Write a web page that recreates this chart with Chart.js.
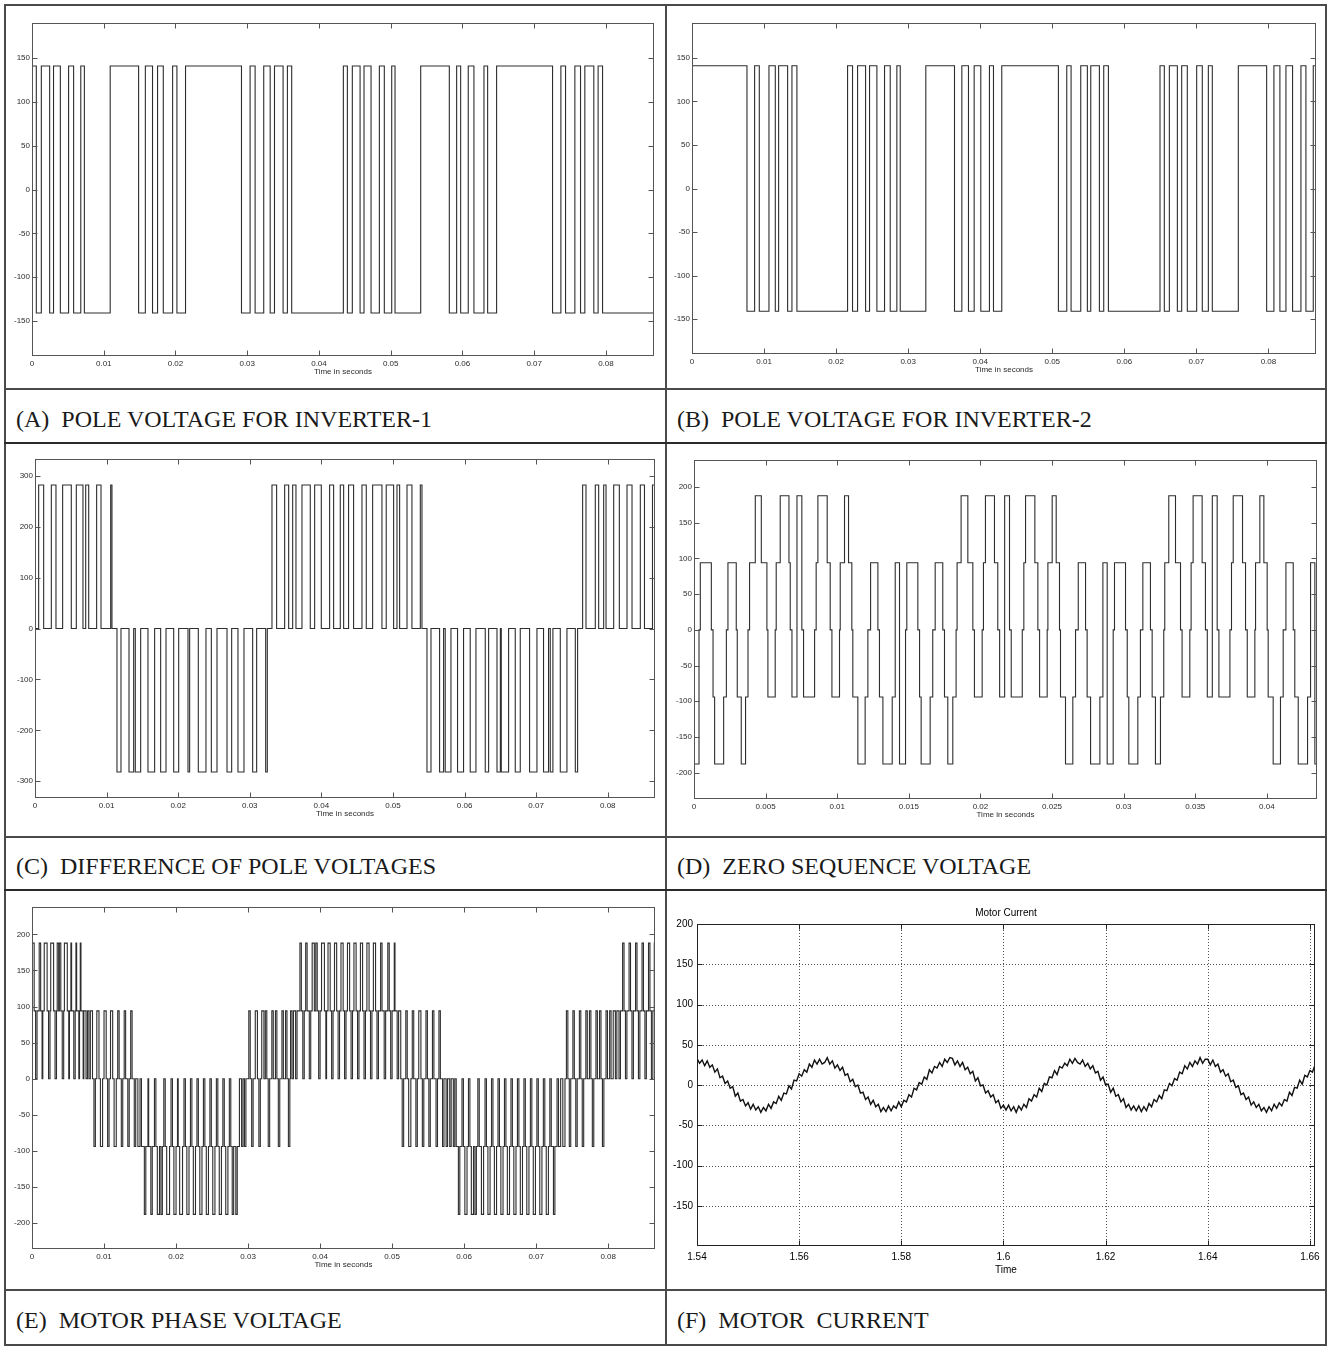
<!DOCTYPE html>
<html><head><meta charset="utf-8">
<script src="https://cdn.jsdelivr.net/npm/chart.js@4/dist/chart.umd.min.js"></script>
<style>
html,body{margin:0;padding:0;background:#fff;}
body{width:1328px;height:1347px;position:relative;overflow:hidden;}
.box{position:absolute;}
.ln{position:absolute;background:#4a4a4a;}
.cap{position:absolute;font-family:"Liberation Serif","Times New Roman",serif;font-size:24px;line-height:24px;color:#1a1a1a;white-space:pre;}
</style></head><body>
<div class="ln" style="left:4px;top:4px;width:1323px;height:2px"></div>
<div class="ln" style="left:4px;top:1344px;width:1323px;height:2px"></div>
<div class="ln" style="left:4px;top:4px;width:2px;height:1342px"></div>
<div class="ln" style="left:665px;top:4px;width:2px;height:1342px"></div>
<div class="ln" style="left:1325px;top:4px;width:2px;height:1342px"></div>
<div class="ln" style="left:4px;top:388px;width:1323px;height:2px"></div>
<div class="ln" style="left:4px;top:442px;width:1323px;height:2px;background:#2a2a2a"></div>
<div class="ln" style="left:4px;top:836px;width:1323px;height:2px"></div>
<div class="ln" style="left:4px;top:889px;width:1323px;height:2px;background:#2a2a2a"></div>
<div class="ln" style="left:4px;top:1289px;width:1323px;height:2px"></div>
<div class="cap" style="left:16px;top:407px">(A)  POLE VOLTAGE FOR INVERTER-1</div>
<div class="cap" style="left:677px;top:407px">(B)  POLE VOLTAGE FOR INVERTER-2</div>
<div class="cap" style="left:16px;top:854px">(C)  DIFFERENCE OF POLE VOLTAGES</div>
<div class="cap" style="left:677px;top:854px">(D)  ZERO SEQUENCE VOLTAGE</div>
<div class="cap" style="left:16px;top:1308px">(E)  MOTOR PHASE VOLTAGE</div>
<div class="cap" style="left:677px;top:1308px">(F)  MOTOR  CURRENT</div>
<script>
// ---------- tick labels ----------
const xTicks01 = [0,0.01,0.02,0.03,0.04,0.05,0.06,0.07,0.08];
const xLabels01 = ['0','0.01','0.02','0.03','0.04','0.05','0.06','0.07','0.08'];
const xTicksD = [0,0.005,0.01,0.015,0.02,0.025,0.03,0.035,0.04];
const xLabelsD = ['0','0.005','0.01','0.015','0.02','0.025','0.03','0.035','0.04'];
const yTicksPole = [-150,-100,-50,0,50,100,150];
const yLabelsPole = ['-150','-100','-50','0','50','100','150'];
const yTicksDiff = [-300,-200,-100,0,100,200,300];
const yLabelsDiff = ['-300','-200','-100','0','100','200','300'];
const yTicks200 = [-200,-150,-100,-50,0,50,100,150,200];
const yLabels200 = ['-200','-150','-100','-50','0','50','100','150','200'];
const xTicksF = [1.54,1.56,1.58,1.6,1.62,1.64,1.66];
const xLabelsF = ['1.54','1.56','1.58','1.6','1.62','1.64','1.66'];
const yTicksF = [-150,-100,-50,0,50,100,150,200];
const yLabelsF = ['-150','-100','-50','0','50','100','150','200'];

// ---------- series: [time (s), level from this time on] ----------
const poleV1 = [[0,141],[0.0006,-141],[0.0013,141],[0.00246,-141],[0.003,141],[0.00395,-141],[0.0051,141],[0.0058,-141],[0.0068,141],[0.0073,-141],[0.0109,141],[0.01486,-141],[0.0158,141],[0.0168,-141],[0.0175,141],[0.0183,-141],[0.0196,141],[0.0202,-141],[0.0214,141],[0.0292,-141],[0.0304,141],[0.0311,-141],[0.0323,141],[0.0332,-141],[0.0338,141],[0.035,-141],[0.0356,141],[0.0362,-141],[0.0434,141],[0.04396,-141],[0.04465,141],[0.04573,-141],[0.04628,141],[0.04726,-141],[0.04842,141],[0.04911,-141],[0.05014,141],[0.0506,-141],[0.05418,141],[0.05817,-141],[0.05919,141],[0.05975,-141],[0.06081,141],[0.0616,-141],[0.063,141],[0.06351,-141],[0.06476,141],[0.07256,-141],[0.07372,141],[0.07437,-141],[0.07567,141],[0.07646,-141],[0.07706,141],[0.07831,-141],[0.07891,141],[0.07953,-141],[0.0867,-141]];

const poleV2 = [[0,141],[0.00763,-141],[0.00869,141],[0.00934,-141],[0.01068,141],[0.01156,-141],[0.01202,141],[0.01327,-141],[0.01387,141],[0.01456,-141],[0.02159,141],[0.02228,-141],[0.02298,141],[0.02409,-141],[0.02464,141],[0.02566,-141],[0.02672,141],[0.02751,-141],[0.02843,141],[0.0289,-141],[0.03245,141],[0.03643,-141],[0.03745,141],[0.03837,-141],[0.03916,141],[0.04008,-141],[0.04128,141],[0.04184,-141],[0.04299,141],[0.05085,-141],[0.05201,141],[0.05261,-141],[0.05395,141],[0.05487,-141],[0.05534,141],[0.05654,-141],[0.05714,141],[0.05779,-141],[0.06495,141],[0.06555,-141],[0.06625,141],[0.06736,-141],[0.06796,141],[0.06874,-141],[0.07004,141],[0.07082,-141],[0.07166,141],[0.07221,-141],[0.07582,141],[0.07975,-141],[0.08076,141],[0.08159,-141],[0.08243,141],[0.08335,-141],[0.08451,141],[0.0852,-141],[0.08622,141],[0.0866,141]];

const poleDiff = [[0,0],[0.00051,282],[0.00121,0],[0.00228,282],[0.00293,0],[0.00386,282],[0.00507,0],[0.00577,282],[0.0067,0],[0.00708,282],[0.0075,0],[0.00861,282],[0.00922,0],[0.01057,282],[0.01075,0],[0.01145,-282],[0.01201,0],[0.01313,-282],[0.01378,0],[0.01401,-282],[0.01476,0],[0.01578,-282],[0.01671,0],[0.01755,-282],[0.0183,0],[0.01937,-282],[0.02007,0],[0.02137,-282],[0.0216,0],[0.02281,-282],[0.02388,0],[0.02463,-282],[0.02542,0],[0.02682,-282],[0.02747,0],[0.02835,-282],[0.02919,0],[0.0304,-282],[0.03096,0],[0.03222,-282],[0.03245,0],[0.0331,282],[0.03375,0],[0.03487,282],[0.03543,0],[0.03599,282],[0.03645,0],[0.03729,282],[0.03845,0],[0.03906,282],[0.03999,0],[0.04115,282],[0.04171,0],[0.04264,282],[0.04311,0],[0.0438,282],[0.0445,0],[0.04567,282],[0.04627,0],[0.04716,282],[0.04846,0],[0.04906,282],[0.05009,0],[0.05056,282],[0.05093,0],[0.05196,282],[0.05265,0],[0.05382,282],[0.05405,0],[0.05475,-282],[0.05531,0],[0.05651,-282],[0.05707,0],[0.0573,-282],[0.0581,0],[0.05902,-282],[0.05986,0],[0.06079,-282],[0.06159,0],[0.06289,-282],[0.06336,0],[0.06453,-282],[0.065,0],[0.06513,-282],[0.06615,0],[0.06708,-282],[0.06778,0],[0.06908,-282],[0.07011,0],[0.07103,-282],[0.07173,0],[0.07197,-282],[0.07234,0],[0.07337,-282],[0.0743,0],[0.07547,-282],[0.07579,0],[0.07649,282],[0.07696,0],[0.07826,282],[0.07873,0],[0.07943,282],[0.07976,0],[0.08083,282],[0.08162,0],[0.08269,282],[0.08339,0],[0.08455,282],[0.08513,0],[0.08625,282],[0.0866,282]];

const zeroSeq = [[0,-188],[0.00035,0],[0.00044,94],[0.00121,0],[0.00133,-94],[0.00144,-188],[0.00207,-94],[0.00226,0],[0.00237,94],[0.00295,0],[0.00302,-94],[0.0033,-188],[0.0036,-94],[0.00377,0],[0.00388,94],[0.00428,188],[0.0047,94],[0.00509,0],[0.00516,-94],[0.00567,0],[0.00574,94],[0.00602,188],[0.00663,94],[0.00672,0],[0.00684,-94],[0.00719,188],[0.00753,0],[0.00765,-94],[0.00842,0],[0.00853,94],[0.00865,188],[0.0093,94],[0.00951,0],[0.00963,-94],[0.01016,0],[0.01021,94],[0.01051,188],[0.01079,94],[0.01102,0],[0.01109,-94],[0.01144,-188],[0.01195,-94],[0.01214,0],[0.01233,94],[0.01284,0],[0.01295,-94],[0.01319,-188],[0.01384,-94],[0.01405,94],[0.01435,-188],[0.01477,0],[0.01486,94],[0.01563,0],[0.01575,-94],[0.01586,-188],[0.01649,-94],[0.01667,0],[0.01684,94],[0.01737,0],[0.01749,-94],[0.01772,-188],[0.01807,-94],[0.0183,0],[0.01837,94],[0.01865,188],[0.01912,94],[0.01947,0],[0.01958,-94],[0.02012,0],[0.02021,94],[0.02035,188],[0.02098,94],[0.02121,0],
[0.02134,-94],[0.02169,188],[0.02203,0],[0.02215,-94],[0.02292,0],[0.02303,94],[0.02315,188],[0.0238,94],[0.02401,0],[0.02413,-94],[0.02466,0],[0.02471,94],[0.02501,188],[0.02529,94],[0.02552,0],[0.02559,-94],[0.02594,-188],[0.02645,-94],[0.02664,0],[0.02683,94],[0.02734,0],[0.02745,-94],[0.02769,-188],[0.02834,-94],[0.02855,94],[0.02885,-188],[0.02927,0],[0.02936,94],[0.03013,0],[0.03025,-94],[0.03036,-188],[0.03099,-94],[0.03117,0],[0.03134,94],[0.03187,0],[0.03199,-94],[0.03222,-188],[0.03257,-94],[0.0328,0],[0.03287,94],[0.03315,188],[0.03362,94],[0.03397,0],[0.03408,-94],[0.03462,0],[0.03471,94],[0.03485,188],[0.03548,94],[0.03571,0],
[0.03584,-94],[0.03619,188],[0.03653,0],[0.03665,-94],[0.03742,0],[0.03753,94],[0.03765,188],[0.0383,94],[0.03851,0],[0.03863,-94],[0.03916,0],[0.03921,94],[0.03951,188],[0.03979,94],[0.04002,0],[0.04009,-94],[0.04044,-188],[0.04095,-94],[0.04114,0],[0.04133,94],[0.04184,0],[0.04195,-94],[0.04219,-188],[0.04284,-94],[0.04305,94],[0.04335,-188],[0.0435,-188]];

const phaseV = [[0,188],[0.0003,94],[0.0005,0],[0.0007,94],[0.001,188],[0.0012,94],[0.0014,0],[0.0015,94],[0.0017,188],[0.0021,94],[0.0023,0],[0.0025,94],[0.0026,188],[0.003,94],[0.0032,0],[0.0034,94],[0.0035,188],[0.0037,94],[0.0038,188],[0.004,94],[0.0042,0],[0.0044,94],[0.0045,188],[0.0049,94],[0.0051,0],[0.0052,94],[0.0054,188],[0.0055,94],[0.0058,0],[0.006,94],[0.0061,188],[0.0062,94],[0.0065,0],[0.0066,94],[0.0067,188],[0.0068,94],[0.0071,0],[0.0072,94],[0.0075,0],[0.0077,94],[0.0079,0],[0.0081,94],[0.0084,0],
[0.0086,-94],[0.0088,0],[0.009,94],[0.0093,0],[0.0095,-94],[0.0098,0],[0.01,94],[0.0103,0],[0.0105,-94],[0.0107,0],[0.0109,94],[0.0112,0],[0.0114,-94],[0.0117,0],[0.0119,94],[0.0121,0],[0.0124,-94],[0.0126,0],[0.0128,94],[0.013,0],[0.0133,-94],[0.0135,0],[0.0137,94],[0.0139,0],[0.0142,-94],[0.0144,0],
[0.0147,-94],[0.015,0],[0.0152,-94],[0.0156,-188],[0.0158,-94],[0.0161,0],[0.0162,-94],[0.0165,-188],[0.0167,-94],[0.017,0],[0.0172,-94],[0.0174,-188],[0.0177,-94],[0.0179,-188],[0.0181,-94],[0.0183,0],[0.0185,-94],[0.0187,-188],[0.0191,-94],[0.0193,0],[0.0195,-94],[0.0197,-188],[0.02,-94],[0.0202,0],[0.0203,-94],[0.0205,-188],[0.0209,-94],[0.0211,0],[0.0213,-94],[0.0215,-188],[0.0218,-94],[0.022,0],[0.0222,-94],[0.0224,-188],[0.0227,-94],[0.0229,0],[0.0231,-94],[0.0233,-188],[0.0236,-94],[0.0238,0],[0.024,-94],[0.0242,-188],[0.0245,-94],[0.0247,0],[0.0249,-94],[0.0251,-188],[0.0254,-94],[0.0256,0],[0.0258,-94],[0.026,-188],[0.0263,-94],[0.0265,0],[0.0267,-94],[0.0269,-188],[0.0272,-94],[0.0274,0],[0.0276,-94],[0.0278,-188],[0.028,-94],[0.0283,-188],[0.0285,-94],[0.0288,0],
[0.0291,-94],[0.0293,0],[0.0295,-94],[0.0297,0],[0.0301,94],[0.0303,0],[0.0305,-94],[0.0307,0],[0.031,94],[0.0313,0],[0.0315,-94],[0.0317,0],[0.0319,94],[0.0322,0],[0.0324,94],[0.0326,0],[0.0328,-94],[0.033,0],[0.0333,94],[0.0335,0],[0.0338,94],[0.034,0],[0.0342,-94],[0.0344,0],[0.0347,94],[0.0349,0],[0.0352,94],[0.0354,0],[0.0356,-94],[0.0358,0],[0.0359,94],
[0.0361,0],[0.0363,94],[0.0366,0],[0.0368,94],[0.0372,188],[0.0374,94],[0.0376,0],[0.0378,94],[0.038,188],[0.0382,94],[0.0385,0],[0.0387,94],[0.0389,188],[0.0392,94],[0.0394,188],[0.0396,94],[0.0398,0],[0.04,94],[0.0402,188],[0.0406,94],[0.0408,0],[0.0409,94],[0.0411,188],[0.0414,94],[0.0416,0],[0.0418,94],[0.042,188],[0.0423,94],[0.0425,0],[0.0427,94],[0.0429,188],[0.0432,94],[0.0434,0],[0.0436,94],[0.0438,188],[0.0441,94],[0.0443,0],[0.0445,94],[0.0447,188],[0.045,94],[0.0452,0],[0.0454,94],[0.0456,188],[0.0459,94],[0.0461,0],[0.0463,94],[0.0465,188],[0.0468,94],[0.047,0],[0.0472,94],[0.0474,188],[0.0477,94],[0.0479,0],[0.0481,94],[0.0484,188],[0.0486,94],[0.0489,0],[0.0491,94],[0.0494,188],[0.0496,94],[0.0498,0],[0.05,94],[0.0503,188],[0.0504,94],
[0.0507,0],[0.0509,94],[0.0512,0],[0.0514,-94],[0.0516,0],[0.0519,94],[0.0521,0],[0.0523,-94],[0.0526,0],[0.0528,94],[0.053,0],[0.0533,-94],[0.0535,0],[0.0537,94],[0.054,0],[0.0542,-94],[0.0544,0],[0.0547,94],[0.0549,0],[0.0551,-94],[0.0553,0],[0.0556,94],[0.0558,0],[0.0561,-94],[0.0563,0],[0.0565,94],[0.0567,0],[0.057,-94],[0.0572,0],[0.0575,-94],[0.0577,0],[0.058,-94],[0.0582,0],[0.0585,-94],[0.0587,0],
[0.0589,-94],[0.0592,-188],[0.0594,-94],[0.0597,0],[0.0599,-94],[0.0601,-188],[0.0604,-94],[0.0606,0],[0.0608,-94],[0.061,-188],[0.0613,-94],[0.0615,-188],[0.0617,-94],[0.0619,0],[0.0621,-94],[0.0624,-188],[0.0627,-94],[0.0629,0],[0.0631,-94],[0.0633,-188],[0.0636,-94],[0.0638,0],[0.064,-94],[0.0642,-188],[0.0645,-94],[0.0647,0],[0.0649,-94],[0.0651,-188],[0.0654,-94],[0.0656,0],[0.0658,-94],[0.066,-188],[0.0663,-94],[0.0665,0],[0.0667,-94],[0.0669,-188],[0.0672,-94],[0.0674,0],[0.0676,-94],[0.0678,-188],[0.0681,-94],[0.0683,0],[0.0685,-94],[0.0687,-188],[0.069,-94],[0.0692,0],[0.0694,-94],[0.0696,-188],[0.0699,-94],[0.0701,0],[0.0703,-94],[0.0705,-188],[0.0708,-94],[0.071,0],[0.0712,-94],[0.0714,-188],[0.0717,-94],[0.0719,0],[0.0721,-94],[0.0724,-188],[0.0726,-94],[0.0729,0],[0.0731,-94],[0.0734,0],[0.0737,-94],[0.074,0],
[0.0742,94],[0.0744,0],[0.0746,-94],[0.0748,0],[0.0751,94],[0.0753,0],[0.0755,-94],[0.0757,0],[0.076,94],[0.0762,0],[0.0764,-94],[0.0766,0],[0.0769,94],[0.0771,0],[0.0774,94],[0.0776,0],[0.0778,-94],[0.078,0],[0.0783,94],[0.0785,0],[0.0788,94],[0.079,0],[0.0792,-94],[0.0794,0],[0.0797,94],[0.0799,0],[0.0802,94],[0.0804,0],[0.0807,94],[0.081,0],
[0.0812,94],[0.0815,0],[0.0817,94],[0.082,188],[0.0822,94],[0.0824,0],[0.0826,94],[0.0829,188],[0.0831,94],[0.0833,0],[0.0835,94],[0.0838,188],[0.084,94],[0.0842,0],[0.0844,94],[0.0847,188],[0.0849,94],[0.0851,0],[0.0853,94],[0.0856,188],[0.0858,94],[0.086,0],[0.0862,94],[0.0864,188],[0.0865,188]];

// motor current, sampled every 0.5 ms from t = 1.54 s
const currentT0 = 1.54;
const currentDt = 0.0005;
const motorCurrent = [33,27,31,24,30,22,25,16,20,9,11,2,5,-4,-2,-14,-10,-20,-18,-26,-22,-30,-24,-31,-27,-34,-28,-32,-24,-29,-21,-23,-14,-19,-10,-11,-1,-5,6,5,14,11,19,16,26,22,31,26,32,26,
28,34,26,30,21,25,18,22,12,14,4,7,-2,0,-10,-9,-18,-15,-24,-19,-27,-24,-33,-28,-33,-26,-32,-26,-29,-21,-27,-19,-21,-12,-15,-4,-6,3,1,10,7,19,15,23,21,28,23,32,28,34,
33,25,30,23,28,19,22,14,17,5,9,-1,0,-10,-7,-15,-12,-22,-19,-29,-25,-31,-25,-32,-27,-34,-26,-31,-24,-28,-17,-20,-12,-15,-4,-8,2,0,10,9,18,13,23,21,27,24,32,27,33,28,
26,31,23,27,20,24,15,17,6,10,0,1,-9,-4,-14,-12,-21,-17,-28,-24,-31,-26,-32,-26,-33,-27,-32,-23,-27,-18,-21,-13,-17,-6,-7,2,-1,8,6,16,14,24,20,28,23,30,26,34,27,32,
32,25,31,23,26,16,19,11,14,4,6,-3,-1,-12,-10,-18,-15,-25,-21,-28,-24,-32,-28,-34,-27,-32,-24,-29,-22,-26,-18,-20,-9,-13,-3,-4,6,1,12,10,18,16,25];

// ---------- drawing ----------
const SANS = '"Liberation Sans", Arial, Helvetica, sans-serif';

const framePlugin = {
  id: 'frame',
  beforeDatasetsDraw(chart, args, o) {
    if (!o.dotted) return;
    const {ctx, chartArea: a} = chart;
    const xs = chart.scales.x, ys = chart.scales.y;
    ctx.save();
    ctx.strokeStyle = o.gridColor; ctx.lineWidth = 1; ctx.setLineDash([1, 2]);
    ctx.beginPath();
    xs.ticks.forEach(t => { const p = Math.round(xs.getPixelForValue(t.value)) + 0.5; if (p > a.left + 2 && p < a.right - 2) { ctx.moveTo(p, a.top); ctx.lineTo(p, a.bottom); } });
    ys.ticks.forEach(t => { const p = Math.round(ys.getPixelForValue(t.value)) + 0.5; if (p > a.top + 2 && p < a.bottom - 2) { ctx.moveTo(a.left, p); ctx.lineTo(a.right, p); } });
    ctx.stroke();
    ctx.restore();
  },
  afterDraw(chart, args, o) {
    const {ctx, chartArea: a} = chart;
    const xs = chart.scales.x, ys = chart.scales.y;
    const L = Math.round(a.left) + 0.5, R = Math.round(a.right) - 0.5, T = Math.round(a.top) + 0.5, B = Math.round(a.bottom) - 0.5;
    ctx.save();
    ctx.strokeStyle = o.color; ctx.lineWidth = 1;
    ctx.strokeRect(L, T, R - L, B - T);
    ctx.beginPath();
    const k = o.tick;
    xs.ticks.forEach(t => { const p = Math.round(xs.getPixelForValue(t.value)) + 0.5; ctx.moveTo(p, B); ctx.lineTo(p, B - k); ctx.moveTo(p, T); ctx.lineTo(p, T + k); });
    ys.ticks.forEach(t => { const p = Math.round(ys.getPixelForValue(t.value)) + 0.5; ctx.moveTo(L, p); ctx.lineTo(L + k, p); ctx.moveTo(R, p); ctx.lineTo(R - k, p); });
    ctx.stroke();
    if (o.title) {
      ctx.fillStyle = o.titleColor; ctx.font = o.titleFont; ctx.textAlign = 'center'; ctx.textBaseline = 'middle';
      ctx.fillText(o.title, (a.left + a.right) / 2, a.top - o.titleGap);
    }
    ctx.restore();
  }
};

function makePanel(p) {
  const div = document.createElement('div');
  div.className = 'box';
  const left = p.L - p.yW, top = p.T - p.padT;
  const w = p.yW + p.W + p.padR, h = p.padT + p.H + p.xH;
  div.style.cssText = 'left:' + left + 'px;top:' + top + 'px;width:' + w + 'px;height:' + h + 'px;';
  const cv = document.createElement('canvas');
  div.appendChild(cv);
  document.body.appendChild(div);
  const font = {family: SANS, size: p.fs};
  new Chart(cv, {
    type: 'line',
    data: {datasets: [{data: p.data, borderColor: p.lineColor, borderWidth: p.lw, stepped: p.stepped, pointRadius: 0, tension: 0, fill: false}]},
    options: {
      responsive: true, maintainAspectRatio: false, animation: false, events: [], devicePixelRatio: 1,
      layout: {padding: {top: p.padT, right: p.padR, left: 0, bottom: 0}},
      plugins: {
        legend: {display: false}, tooltip: {enabled: false},
        frame: {color: p.frameColor, tick: p.tickLen, dotted: !!p.dotted, gridColor: '#505050',
                title: p.plotTitle || '', titleColor: p.txt, titleFont: p.fs + 'px ' + SANS, titleGap: 11}
      },
      scales: {
        x: {
          type: 'linear', min: p.xmin, max: p.xmax,
          grid: {display: false, drawTicks: false, tickLength: 0}, border: {display: false},
          afterBuildTicks: s => { s.ticks = p.xt.map(v => ({value: v})); },
          afterFit: s => { s.height = p.xH; },
          ticks: {autoSkip: false, maxRotation: 0, minRotation: 0, padding: p.xPad, color: p.txt, font: font, callback: (v, i) => p.xl[i]},
          title: {display: true, text: p.xTitle, color: p.txt, font: font, padding: {top: 0, bottom: p.titlePad}}
        },
        y: {
          type: 'linear', min: p.ymin, max: p.ymax,
          grid: {display: false, drawTicks: false, tickLength: 0}, border: {display: false},
          afterBuildTicks: s => { s.ticks = p.yt.map(v => ({value: v})); },
          afterFit: s => { s.width = p.yW; },
          ticks: {autoSkip: false, padding: p.yPad, color: p.txt, font: font, callback: (v, i) => p.yl[i]}
        }
      }
    },
    plugins: [framePlugin]
  });
}

const common = {yW: 30, xH: 26, padT: 8, padR: 10, fs: 8, txt: '#2b2b2b', lineColor: '#2e2e2e', lw: 1.1, stepped: true,
  frameColor: '#555', tickLen: 5, xPad: 3, yPad: 2, titlePad: 5, xTitle: 'Time in seconds'};

const toPts = arr => arr.map(p => ({x: p[0], y: p[1]}));

makePanel(Object.assign({}, common, {L: 32, T: 23, W: 622, H: 333, xmin: 0, xmax: 0.0867, ymin: -190, ymax: 190,
  xt: xTicks01, xl: xLabels01, yt: yTicksPole, yl: yLabelsPole, data: toPts(poleV1)}));
makePanel(Object.assign({}, common, {L: 692, T: 23, W: 624, H: 331, xmin: 0, xmax: 0.0866, ymin: -190, ymax: 190,
  xt: xTicks01, xl: xLabels01, yt: yTicksPole, yl: yLabelsPole, data: toPts(poleV2)}));
makePanel(Object.assign({}, common, {L: 35, T: 459, W: 620, H: 339, xmin: 0, xmax: 0.0866, ymin: -333, ymax: 333,
  xt: xTicks01, xl: xLabels01, yt: yTicksDiff, yl: yLabelsDiff, data: toPts(poleDiff)}));
makePanel(Object.assign({}, common, {L: 694, T: 460, W: 623, H: 339, xmin: 0, xmax: 0.0435, ymin: -237, ymax: 238,
  xt: xTicksD, xl: xLabelsD, yt: yTicks200, yl: yLabels200, data: toPts(zeroSeq)}));
makePanel(Object.assign({}, common, {L: 32, T: 907, W: 623, H: 342, xmin: 0, xmax: 0.0865, ymin: -236, ymax: 238,
  xt: xTicks01, xl: xLabels01, yt: yTicks200, yl: yLabels200, data: toPts(phaseV)}));
makePanel({L: 697, T: 924, W: 618, H: 322, yW: 40, xH: 34, padT: 20, padR: 12, fs: 10, txt: '#000', lineColor: '#111', lw: 1.4,
  stepped: false, frameColor: '#222', tickLen: 5, xPad: 5, yPad: 4, titlePad: 4, xTitle: 'Time', dotted: true, plotTitle: 'Motor Current',
  xmin: 1.54, xmax: 1.661, ymin: -200, ymax: 200, xt: xTicksF, xl: xLabelsF, yt: yTicksF, yl: yLabelsF,
  data: motorCurrent.map((v, i) => ({x: currentT0 + i * currentDt, y: v}))});
</script>
</body></html>
